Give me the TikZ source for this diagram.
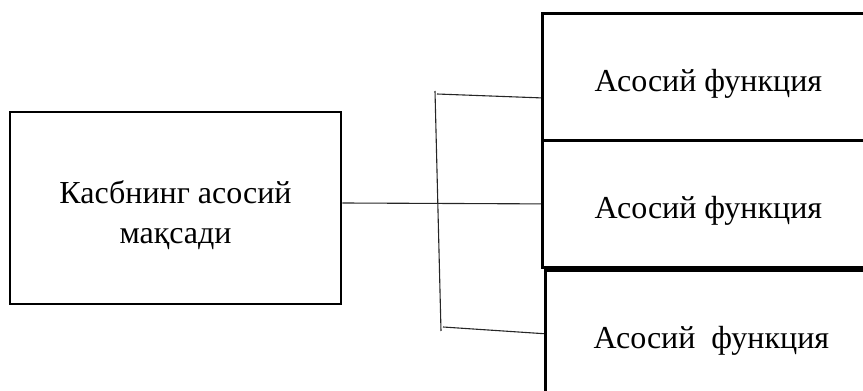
\documentclass[tikz,border=0pt]{standalone}
\usepackage{fontspec}
\setmainfont{Liberation Serif}
\usetikzlibrary{positioning}
\tikzset{
  goalbox/.style={rectangle, draw=black, line width=2.8pt, minimum width=331pt,
    minimum height=192pt, align=center, inner sep=0pt, text height=78pt,
    font=\fontsize{32}{40}\selectfont},
  funcbox/.style={rectangle, draw=black, line width=2.8pt, minimum width=332pt,
    minimum height=127pt, align=center, inner sep=0pt, text height=37pt,
    font=\fontsize{32}{40}\selectfont},
  linkline/.style={draw=black!85, line width=1.1pt},
}
\begin{document}
\begin{tikzpicture}[x=1pt, y=1pt]
  \useasboundingbox (0,0) rectangle (863,391);
  \clip (0,0) rectangle (863,391);

  % Goal on the left
  \node[goalbox] (goal) at (175.5,183) {Касбнинг асосий\\мақсади};

  % Three functions stacked on the right
  \node[funcbox, anchor=north west] (fn1) at (541,379) {Асосий функция};
  \node[funcbox, below=-2.8pt of fn1] (fn2) {Асосий функция};
  \node[funcbox, below=0pt of fn2, xshift=3pt] (fn3) {Асосий\ \ функция};

  % Bracket joining the functions
  \coordinate (btop) at (435,300);
  \coordinate (bbot) at (441,60);
  \coordinate (t1) at (437,297);
  \coordinate (t3) at (443,64);
  \draw[linkline] (btop) -- (bbot);
  \draw[linkline] (t1) -- ([yshift=-21pt]fn1.west);
  \draw[linkline] ([yshift=5pt]goal.east) -- (fn2.west);
  \draw[linkline] (t3) -- (fn3.west);
\end{tikzpicture}
\end{document}
